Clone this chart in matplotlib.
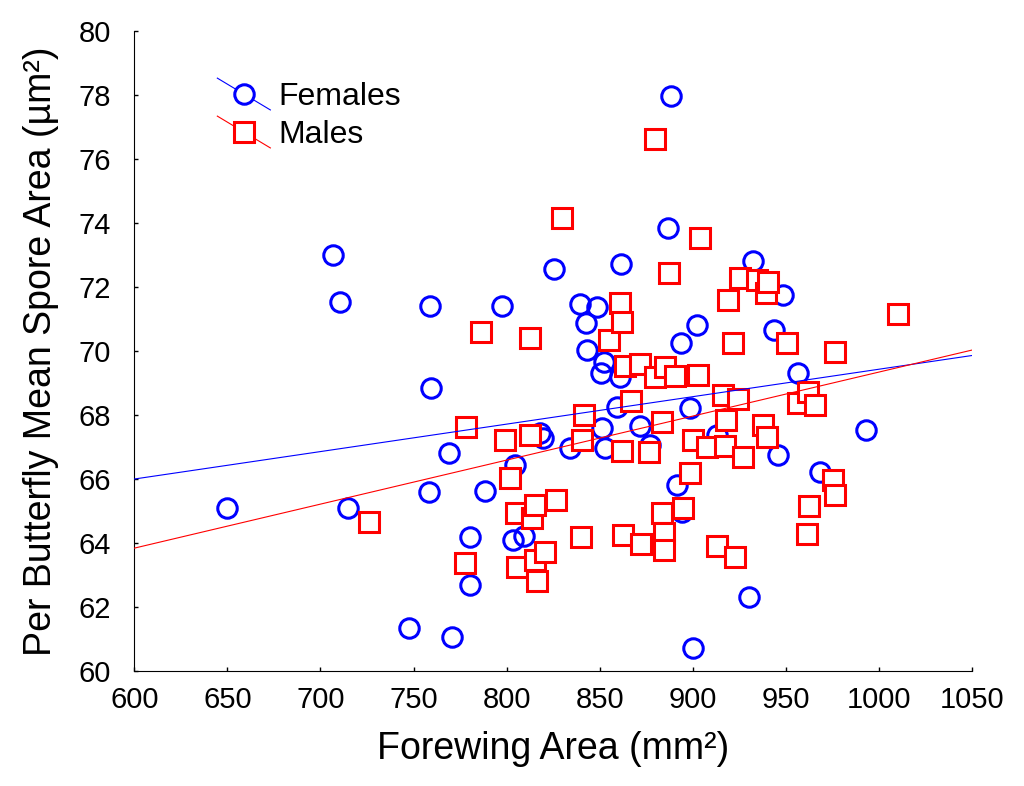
import numpy as np
import matplotlib.pyplot as plt
from matplotlib.lines import Line2D
from matplotlib.legend_handler import HandlerBase

plt.rcParams['font.family'] = ['Liberation Sans', 'DejaVu Sans']

# Females (circles): forewing area (mm2), mean spore area (um2)
fem_x = [649.8, 706.6, 710.3, 714.6, 747.7, 758.8, 759.4, 758.3, 769.0, 770.7,
         780.3, 780.3, 788.4, 797.5, 803.4, 804.5, 809.3, 817.9, 819.5, 825.4,
         834.0, 839.4, 848.5, 842.6, 843.1, 850.6, 852.3, 860.9, 859.3, 851.2,
         852.8, 861.4, 871.6, 877.0, 886.7, 888.1, 893.5, 902.1, 898.4, 891.4,
         894.2, 900.1, 913.0, 930.2, 932.3, 943.6, 948.5, 945.8, 956.5, 968.1,
         993.3]
fem_y = [65.10, 73.00, 71.52, 65.10, 61.33, 71.41, 68.84, 65.60, 66.81, 61.06,
         64.19, 62.69, 65.63, 71.41, 64.09, 66.44, 64.22, 67.44, 67.28, 72.56,
         66.97, 71.47, 71.38, 70.88, 70.03, 69.31, 69.66, 69.19, 68.25, 67.59,
         66.97, 72.72, 67.66, 67.06, 73.84, 77.98, 70.25, 70.81, 68.22, 65.81,
         64.97, 60.72, 67.38, 62.31, 72.81, 70.66, 71.75, 66.75, 69.31, 66.22,
         67.53]

# Males (squares)
male_x = [725.9, 777.6, 778.2, 786.1, 799.1, 801.8, 805.0, 805.4, 812.6, 812.6,
          813.5, 815.2, 815.2, 816.2, 820.7, 826.6, 829.6, 839.8, 840.3, 841.6,
          855.2, 860.9, 861.8, 862.1, 862.7, 863.6, 866.6, 871.6, 872.0, 876.6,
          879.7, 879.7, 883.3, 883.3, 884.5, 884.5, 885.1, 887.4, 890.4, 894.6,
          898.5, 900.3, 903.0, 903.9, 907.8, 912.8, 916.4, 917.6, 917.3, 919.1,
          921.4, 922.7, 924.4, 925.4, 927.1, 934.3, 937.7, 939.7, 939.3, 940.6,
          950.5, 956.7, 961.2, 962.1, 962.6, 965.7, 975.5, 976.4, 976.4, 1010.0]
male_y = [64.67, 63.37, 67.63, 70.60, 67.22, 66.02, 64.93, 63.26, 70.40, 67.38,
          64.77, 63.47, 65.19, 62.82, 63.73, 65.34, 74.15, 64.18, 67.22, 68.00,
          70.34, 71.51, 70.92, 66.87, 64.25, 69.53, 68.44, 69.61, 63.97, 66.84,
          76.62, 69.18, 67.79, 64.95, 64.30, 63.78, 69.51, 72.45, 69.22, 65.09,
          66.20, 67.22, 69.25, 73.52, 67.01, 63.91, 68.63, 67.84, 67.03, 71.59,
          70.24, 63.57, 68.50, 72.27, 66.68, 72.22, 67.69, 67.32, 71.80, 72.17,
          70.24, 68.37, 64.27, 68.72, 65.16, 68.31, 65.97, 65.50, 69.97, 71.16]

# fitted regression lines (at the axis ends)
fit_x = [600, 1050]
fem_fit = [66.00, 69.86]
male_fit = [63.84, 70.03]


class DiagHandler(HandlerBase):
    # legend key: a diagonal fit line with the marker on top
    def create_artists(self, legend, orig, xdescent, ydescent, width, height,
                       fontsize, trans):
        cy = height / 2 - ydescent
        dy = 0.3 * width
        line = Line2D([-xdescent, width - xdescent], [cy + dy, cy - dy],
                      color=orig.get_color(), lw=0.8, transform=trans)
        mark = Line2D([width / 2 - xdescent], [cy], marker=orig.get_marker(),
                      ms=orig.get_markersize(), mew=orig.get_markeredgewidth(),
                      mec=orig.get_markeredgecolor(), mfc='white',
                      ls='none', transform=trans)
        return [line, mark]


fig = plt.figure(figsize=(10.24, 7.86), dpi=100)
ax = fig.add_axes([0.1312, 0.1463, 0.818, 0.8142])

ax.plot(fem_x, fem_y, 'o', ms=14, mew=2.2, mec='#0000ff', mfc='none', zorder=2)
ax.plot(male_x, male_y, 's', ms=14, mew=2.2, mec='#ff0000', mfc='white', zorder=3)
ax.plot(fit_x, fem_fit, color='#0000ff', lw=0.8, zorder=4)
ax.plot(fit_x, male_fit, color='#ff0000', lw=0.8, zorder=4)

ax.set_xlim(600, 1050)
ax.set_ylim(60, 80)
ax.set_xticks(np.arange(600, 1051, 50))
ax.set_yticks(np.arange(60, 81, 2))
ax.spines['top'].set_visible(False)
ax.spines['right'].set_visible(False)
ax.tick_params(direction='in', length=3, width=1, labelsize=21)
ax.tick_params(axis='x', pad=11)
ax.tick_params(axis='y', pad=17)

ax.set_xlabel('Forewing Area (mm\u00b2)', fontsize=27, labelpad=12)
ax.set_ylabel('Per Butterfly Mean Spore Area (\u00b5m\u00b2)', fontsize=27, labelpad=14)

h_f = Line2D([], [], color='#0000ff', marker='o', ms=14, mew=2.2, mec='#0000ff')
h_m = Line2D([], [], color='#ff0000', marker='s', ms=14, mew=2.2, mec='#ff0000')
ax.legend([h_f, h_m], ['Females', 'Males'], loc='upper left',
          bbox_to_anchor=(0.08, 0.945), frameon=False, fontsize=23,
          borderpad=0, handlelength=1.66, handletextpad=0.25, labelspacing=0.25,
          handler_map={h_f: DiagHandler(), h_m: DiagHandler()})

fig.savefig('out.png', dpi=100)
